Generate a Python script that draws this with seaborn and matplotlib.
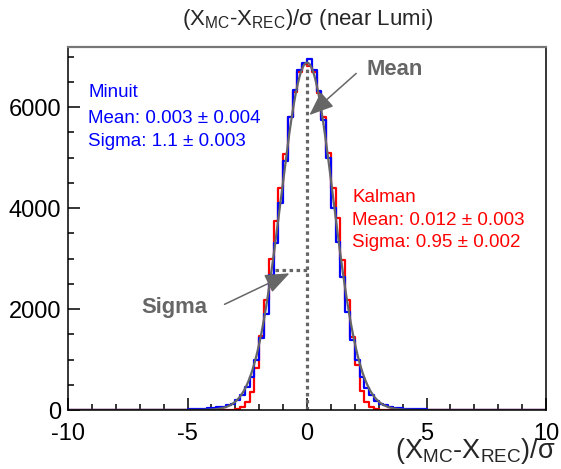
import numpy as np
import pandas as pd
import matplotlib
matplotlib.use("Agg")
import matplotlib.pyplot as plt
import seaborn as sns
from matplotlib.ticker import MultipleLocator

sns.set_theme(style="ticks")
plt.rcParams['font.family'] = ['Liberation Sans', 'DejaVu Sans']
plt.rcParams['mathtext.fontset'] = 'custom'
plt.rcParams['mathtext.rm'] = 'Liberation Sans'
plt.rcParams['mathtext.it'] = 'Liberation Sans:italic'
plt.rcParams['mathtext.bf'] = 'Liberation Sans:bold'

# ---- histogram binning: 100 bins of 0.2 over [-10, 10]; counts given for [-6, 6]
x_edges = np.linspace(-10, 10, 101).tolist()
core_centers = np.linspace(-5.9, 5.9, 60)

minuit_counts = [
    3, 4, 5, 7, 9, 12, 15, 19, 24, 30,
    38, 50, 68, 92, 128, 190, 290, 450, 650, 990,
    1420, 1900, 2680, 3300, 4100, 4930, 5810, 6340, 6730, 6870,
    6950, 6730, 6320, 5740, 4990, 4000, 3330, 2640, 1950, 1390,
    1000, 660, 430, 300, 180, 125, 90, 66, 48, 37,
    29, 23, 18, 14, 11, 9, 7, 5, 4, 3,
]
kalman_counts = [
    0, 0, 0, 0, 0, 0, 0, 0, 0, 0,
    0, 0, 1, 3, 8, 20, 55, 165, 365, 825,
    1470, 2180, 3000, 3740, 4400, 5070, 5810, 6290, 6700, 6850,
    6820, 6700, 6270, 5800, 5100, 4400, 3800, 2980, 2180, 1450,
    900, 385, 165, 50, 18, 7, 3, 1, 0, 0,
    0, 0, 0, 0, 0, 0, 0, 0, 0, 0,
]

# Gaussian fit to the Minuit distribution
fit_mean = 0.003
fit_sigma = 1.1
fit_amp = 6880

minuit_lines = ["Minuit", "Mean: 0.003 \u00b1 0.004", "Sigma: 1.1 \u00b1 0.003"]
kalman_lines = ["Kalman", "Mean: 0.012 \u00b1 0.003", "Sigma: 0.95 \u00b1 0.002"]

hist_df = pd.DataFrame({
    "x": np.concatenate([core_centers, core_centers]),
    "w": np.concatenate([kalman_counts, minuit_counts]).astype(float),
    "fit": ["Kalman"] * len(core_centers) + ["Minuit"] * len(core_centers),
})

W, H = 561, 469
fig = plt.figure(figsize=(W / 100, H / 100), dpi=100)
ax = fig.add_axes([68 / W, 1 - 410 / H, (546 - 68) / W, (410 - 47) / H])


def px(x, y):
    return x / W, 1 - y / H


for name, col in [("Kalman", "#ff0000"), ("Minuit", "#0000ff")]:
    sns.histplot(data=hist_df[hist_df["fit"] == name], x="x", weights="w",
                 bins=x_edges, element="step", fill=False, color=col,
                 linewidth=1.6, ax=ax)

xf = np.linspace(-10, 10, 801)
sns.lineplot(x=xf, y=fit_amp * np.exp(-0.5 * ((xf - fit_mean) / fit_sigma) ** 2),
             color="#666666", linewidth=1.6, ax=ax)

# mean and width markers
gray = "#666666"
ax.plot([fit_mean, fit_mean], [0, 6830], color=gray, lw=2.3,
        linestyle=(0, (1.1, 1.1)), dash_capstyle="butt")
ax.plot([-1.33, 0], [2780, 2780], color=gray, lw=2.3,
        linestyle=(0, (1.1, 1.1)), dash_capstyle="butt")

arrow_kw = dict(arrowstyle="-|>,head_length=0.75,head_width=0.3", color=gray,
                lw=1.1, shrinkA=0, shrinkB=0, mutation_scale=20)
ax.annotate("", xy=(0.10, 5842), xytext=(2.06, 6667), arrowprops=arrow_kw)
ax.annotate("", xy=(-0.73, 2707), xytext=(-3.45, 2093), arrowprops=arrow_kw)
fig.text(*px(367, 75), "Mean", color=gray, fontsize=15.8, fontweight="bold",
         ha="left", va="baseline")
fig.text(*px(141, 313), "Sigma", color=gray, fontsize=15.8, fontweight="bold",
         ha="left", va="baseline")

for line, yb in zip(minuit_lines, [97, 123, 146]):
    fig.text(*px(88, yb), line, color="#0000ff", fontsize=13.5, ha="left", va="baseline")
for line, yb in zip(kalman_lines, [202, 225, 247]):
    fig.text(*px(352, yb), line, color="#ff0000", fontsize=13.5, ha="left", va="baseline")

ax.set_xlim(-10, 10)
ax.set_ylim(0, 7190)
ax.set_xlabel("")
ax.set_ylabel("")
ax.set_xticks([-10, -5, 0, 5, 10])
ax.set_yticks([0, 2000, 4000, 6000])
ax.set_xticklabels(["-10", "-5", "0", "5", "10"])
ax.set_yticklabels(["0", "2000", "4000", "6000"])
ax.xaxis.set_minor_locator(MultipleLocator(1))
ax.yaxis.set_minor_locator(MultipleLocator(500))
ax.tick_params(axis="both", which="both", direction="in", top=False, right=False,
               colors="black", width=1.1)
ax.tick_params(axis="both", which="major", length=8.5, labelsize=17)
ax.tick_params(axis="both", which="minor", length=4.3)
ax.tick_params(axis="x", which="major", pad=9)
ax.tick_params(axis="y", which="major", pad=5)

for side in ["left", "bottom", "right"]:
    ax.spines[side].set_color("black")
    ax.spines[side].set_linewidth(1.1)
ax.spines["top"].set_color("#777777")
ax.spines["top"].set_linewidth(1.6)
ax.set_facecolor("white")
fig.patch.set_facecolor("white")

axis_title = r"(X$_{\mathrm{MC}}$-X$_{\mathrm{REC}}$)/$\mathrm{\sigma}$"
fig.text(*px(556, 458), axis_title, fontsize=19.5, ha="right", va="baseline")
fig.text(*px(308, 25), r"(X$_{\mathrm{MC}}$-X$_{\mathrm{REC}}$)/$\mathrm{\sigma}$ (near Lumi)",
         fontsize=16, ha="center", va="baseline")

fig.savefig("out.png", dpi=100, facecolor="white")
